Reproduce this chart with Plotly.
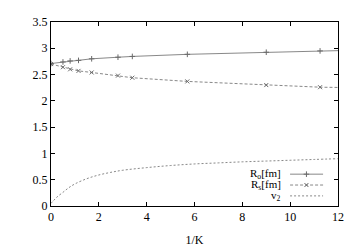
import plotly.graph_objects as go

# 1/K sample positions
x_pts = [0, 0.5, 0.8, 1.15, 1.7, 2.8, 3.4, 5.7, 9.0, 11.25, 12]
r_o = [2.71, 2.74, 2.76, 2.77, 2.80, 2.83, 2.845, 2.885, 2.925, 2.95, 2.955]
r_s = [2.70, 2.64, 2.60, 2.57, 2.54, 2.48, 2.44, 2.37, 2.30, 2.26, 2.255]

x_v2 = [0, 0.1, 0.25, 0.5, 0.75, 1, 1.5, 2, 2.5, 3, 4, 5, 6, 7, 8, 9, 10, 11, 12]
v2 = [0.05, 0.10, 0.17, 0.26, 0.35, 0.42, 0.52, 0.59, 0.64, 0.68, 0.73, 0.77, 0.80, 0.82, 0.84, 0.855, 0.87, 0.885, 0.90]

x_ticks = [0, 2, 4, 6, 8, 10, 12]
y_ticks = [0, 0.5, 1, 1.5, 2, 2.5, 3, 3.5]
labels = ["R<sub>o</sub>[fm]", "R<sub>s</sub>[fm]", "v<sub>2</sub>"]

FONT = "Liberation Serif"
GRAY = "#6a6a6a"
LW = 0.8

fig = go.Figure()
fig.add_trace(go.Scatter(x=x_pts[:-1], y=r_o[:-1], mode="markers", showlegend=False,
                         marker=dict(symbol="cross-thin", size=4, line=dict(width=1, color=GRAY))))
fig.add_trace(go.Scatter(x=x_pts, y=r_o, mode="lines", showlegend=False,
                         line=dict(color=GRAY, width=LW)))
fig.add_trace(go.Scatter(x=x_pts[:-1], y=r_s[:-1], mode="markers", showlegend=False,
                         marker=dict(symbol="x-thin", size=4, line=dict(width=1, color=GRAY))))
fig.add_trace(go.Scatter(x=x_pts, y=r_s, mode="lines", showlegend=False,
                         line=dict(color=GRAY, width=LW, dash="3px,2px")))
fig.add_trace(go.Scatter(x=x_v2, y=v2, mode="lines", showlegend=False,
                         line=dict(color=GRAY, width=LW, dash="2px,2px", shape="spline")))

# legend emulation (gnuplot style: text right, sample on right)
rows_y = [0.173, 0.114, 0.055]
dashes = ["solid", "3px,2px", "2px,2px"]
symbols = ["cross-thin", "x-thin", None]
for lab, ry, d, s in zip(labels, rows_y, dashes, symbols):
    fig.add_annotation(xref="paper", yref="paper", x=0.808, y=ry, text=lab,
                       showarrow=False, xanchor="right", yanchor="middle",
                       font=dict(family=FONT, size=11, color="black"))
    fig.add_shape(type="line", xref="paper", yref="paper", x0=0.833, x1=0.948, y0=ry, y1=ry,
                  line=dict(color=GRAY, width=LW, dash=d))
    if s:
        fig.add_trace(go.Scatter(x=[0.89], y=[ry], xaxis="x2", yaxis="y2", mode="markers",
                                 showlegend=False, hoverinfo="skip",
                                 marker=dict(symbol=s, size=4, line=dict(width=1, color=GRAY))))

axis_common = dict(showgrid=False, zeroline=False, showline=True, linecolor="black", linewidth=1,
                   mirror="ticks", ticks="inside", ticklen=4, tickcolor="black",
                   tickfont=dict(family=FONT, size=12, color="black"))
# page body adds an 8px offset; figure is sized/margined to compensate
fig.update_layout(
    width=352, height=244,
    margin=dict(l=43, r=22, t=7, b=30, pad=0),
    plot_bgcolor="white", paper_bgcolor="white",
    xaxis=dict(range=[0, 12], tickvals=x_ticks,
               title=dict(text="1/K", font=dict(family=FONT, size=12, color="black"), standoff=12),
               **axis_common),
    yaxis=dict(range=[0, 3.5], tickvals=y_ticks, **axis_common),
    xaxis2=dict(overlaying="x", range=[0, 1], visible=False),
    yaxis2=dict(overlaying="y", range=[0, 1], visible=False),
    showlegend=False,
)
fig.write_html("out.html")
